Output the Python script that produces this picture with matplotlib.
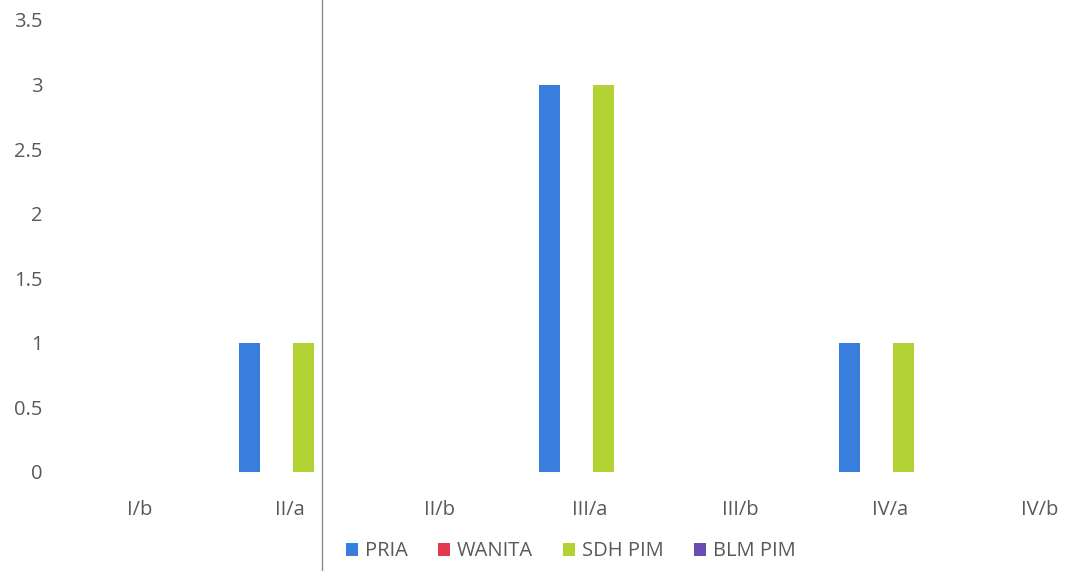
import numpy as np
import matplotlib.pyplot as plt
from matplotlib.lines import Line2D

plt.rcParams['font.family'] = ['Open Sans', 'DejaVu Sans']

categories = ["I/b", "II/a", "II/b", "III/a", "III/b", "IV/a", "IV/b"]
series_names = ["PRIA", "WANITA", "SDH PIM", "BLM PIM"]
pria = [0, 1, 0, 3, 0, 1, 0]
wanita = [0, 0, 0, 0, 0, 0, 0]
sdh_pim = [0, 1, 0, 3, 0, 1, 0]
blm_pim = [0, 0, 0, 0, 0, 0, 0]
colors = ["#3A7EDD", "#E23A4C", "#B3D234", "#6A4DB0"]

fig = plt.figure(figsize=(10.67, 5.71), dpi=100)
ax = fig.add_axes([0.0609, 0.1734, 0.984, 0.7916])

x = np.arange(len(categories))
slot = 0.18
width = 0.14
for i, (name, vals) in enumerate(zip(series_names, [pria, wanita, sdh_pim, blm_pim])):
    ax.bar(x + (i - 1.5) * slot, vals, width, color=colors[i], label=name)

ax.set_xlim(-0.5, 6.5)
ax.set_ylim(0, 3.5)
ax.set_yticks(np.arange(0, 3.51, 0.5))
ax.set_yticklabels(["0", "0.5", "1", "1.5", "2", "2.5", "3", "3.5"])
ax.set_xticks(x)
ax.set_xticklabels(categories)
ax.tick_params(length=0, labelsize=14.5, colors="#595959")
ax.tick_params(axis="y", pad=16)
ax.tick_params(axis="x", pad=20)
for s in ax.spines.values():
    s.set_visible(False)

# scan line
fig.add_artist(Line2D([322 / 1067, 322 / 1067], [0, 1], color="#8a8a8a", lw=1))

fig.legend(loc="lower center", bbox_to_anchor=(0.535, -0.015), ncol=4, frameon=False,
           fontsize=14.5, handlelength=0.6, handleheight=0.6, columnspacing=1.5,
           handletextpad=0.35, labelcolor="#595959")

fig.savefig("out.png", dpi=100)
